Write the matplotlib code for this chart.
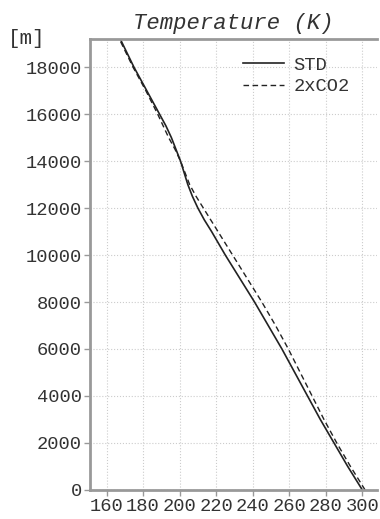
import matplotlib
matplotlib.use("Agg")
import matplotlib.pyplot as plt

# height levels (m) and temperatures (K)
height = [0, 500, 1000, 2000, 3000, 4000, 5000, 6000, 7000, 8000, 9000, 10000,
          11000, 11500, 12000, 12500, 13000, 13500, 14000, 14500, 15000, 15500,
          16000, 17000, 18000, 19200]
temp_std = [300, 296, 292, 284.5, 277, 270, 263, 256, 248.5, 241, 233, 225,
            217.5, 213.5, 210, 207, 204.5, 202.5, 200.5, 198, 195.5, 192.5,
            189, 182, 175, 167.5]
temp_2xco2 = [301.5, 297.5, 293.5, 286, 279, 272.5, 266, 259.5, 252.5, 245, 237, 229,
              221, 217, 213, 209, 205.5, 203, 200.5, 197.5, 194, 191,
              188, 181.5, 174.5, 167]

xticks = [160, 180, 200, 220, 240, 260, 280, 300]
yticks = [0, 2000, 4000, 6000, 8000, 10000, 12000, 14000, 16000, 18000]

FONT = "Liberation Mono"
TXT = "#333333"

fig = plt.figure(figsize=(3.8, 5.19), dpi=100)
ax = fig.add_axes([0.237, 0.056, 0.755, 0.869])

ax.plot(temp_std, height, color="#222222", lw=1.2, label="STD")
ax.plot(temp_2xco2, height, color="#222222", lw=1.0, ls=(0, (4, 2.5)), label="2xCO2")

ax.set_xlim(151, 308)
ax.set_ylim(0, 19200)
ax.set_xticks(xticks)
ax.set_yticks(yticks)
ax.grid(True, color="#cccccc", ls=":", lw=0.8)

for side in ["left", "top", "bottom"]:
    ax.spines[side].set_color("#999999")
    ax.spines[side].set_linewidth(2)
ax.spines["right"].set_visible(False)

ax.tick_params(direction="out", length=4, width=1, color="#999999",
               labelcolor=TXT, pad=2)
for lab in ax.get_xticklabels() + ax.get_yticklabels():
    lab.set_family(FONT)
    lab.set_fontsize(13.5)

ax.set_title("Temperature (K)", family=FONT, style="italic", fontsize=16,
             color=TXT, pad=7)
fig.text(0.02, 0.925, "[m]", family=FONT, fontsize=15, color=TXT, va="center")

leg = ax.legend(loc="upper right", bbox_to_anchor=(0.95, 0.99), frameon=False,
                prop={"family": FONT, "size": 13.5},
                handlelength=2.2, handletextpad=0.5, labelspacing=0.25,
                borderaxespad=0.3)
for t in leg.get_texts():
    t.set_color(TXT)

fig.savefig("out.png", dpi=100)
